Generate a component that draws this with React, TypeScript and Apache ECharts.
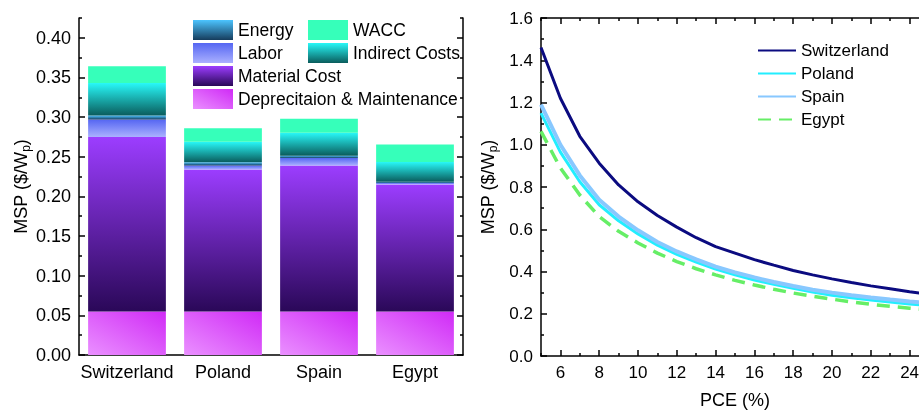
import React, { useEffect, useRef } from "react";
import * as echarts from "echarts";

const categories = ["Switzerland", "Poland", "Spain", "Egypt"];
const depreciation = [0.055, 0.055, 0.055, 0.055];
const material = [0.22, 0.179, 0.184, 0.16];
const labor = [0.022, 0.005, 0.0094, 0.002];
const energy = [0.005, 0.004, 0.003, 0.0015];
const indirect = [0.041, 0.026, 0.029, 0.025];
const wacc = [0.021, 0.017, 0.0175, 0.022];

const leftMajorTicks = [0, 0.05, 0.1, 0.15, 0.2, 0.25, 0.3, 0.35, 0.4];
const leftMinorTicks = [0.025, 0.075, 0.125, 0.175, 0.225, 0.275, 0.325, 0.375, 0.425];

const pce = [5, 6, 7, 8, 9, 10, 11, 12, 13, 14, 15, 16, 17, 18, 19, 20, 21, 22, 23, 24, 25];
const switzerland = [1.46, 1.22, 1.04, 0.913, 0.81, 0.73, 0.665, 0.61, 0.56, 0.518, 0.487, 0.456, 0.43, 0.405, 0.384, 0.365, 0.348, 0.332, 0.318, 0.304, 0.292];
const poland = [1.15, 0.965, 0.825, 0.716, 0.64, 0.578, 0.525, 0.481, 0.444, 0.411, 0.384, 0.36, 0.339, 0.32, 0.303, 0.288, 0.276, 0.265, 0.255, 0.246, 0.238];
const spain = [1.19, 1.0, 0.855, 0.74, 0.66, 0.595, 0.54, 0.495, 0.457, 0.423, 0.396, 0.372, 0.35, 0.331, 0.314, 0.3, 0.288, 0.277, 0.267, 0.258, 0.25];
const egypt = [1.063, 0.89, 0.762, 0.66, 0.59, 0.535, 0.487, 0.447, 0.413, 0.384, 0.358, 0.336, 0.316, 0.298, 0.283, 0.269, 0.256, 0.245, 0.235, 0.226, 0.218];

const xMajorTicks = [6, 8, 10, 12, 14, 16, 18, 20, 22, 24];
const xMinorTicks = [5, 7, 9, 11, 13, 15, 17, 19, 21, 23, 25];

const FONT = "Liberation Sans, Arial, sans-serif";

const vGrad = (top: string, bottom: string) =>
  new echarts.graphic.LinearGradient(0, 0, 0, 1, [
    { offset: 0, color: top },
    { offset: 1, color: bottom },
  ]);

export default function App() {
  const ref = useRef<HTMLDivElement>(null);
  useEffect(() => {
    if (!ref.current) return;
    const chart = echarts.init(ref.current, null, { renderer: "svg" });
    const black = "#000";
    const axisLine = { show: true, onZero: false, lineStyle: { color: black, width: 1.5 } };
    const majorTick = (vals: number[]) => ({ show: true, inside: true, length: 6, customValues: vals, lineStyle: { color: black, width: 1.5 } });
    const minorTickAxis = (vals: number[]) => ({ show: true, inside: true, length: 3, customValues: vals, lineStyle: { color: black, width: 1.5 } });
    const nameRich = { sub: { fontSize: 12, fontFamily: FONT, verticalAlign: "bottom", padding: [10, 0, 0, 0] } };

    const barCommon = { type: "bar", stack: "total", xAxisIndex: 0, yAxisIndex: 0, barWidth: "81%" };
    const mk = (name: string, data: number[], color: any) => ({ ...barCommon, name, data, itemStyle: { color } });

    const lineCommon = { type: "line", xAxisIndex: 1, yAxisIndex: 4, symbol: "none", smooth: false };
    const toPts = (arr: number[]) => pce.map((x, i) => [x, arr[i]]);

    const legendText = { fontSize: 17.5, fontFamily: FONT, color: black };

    const option: any = {
      animation: false,
      textStyle: { fontFamily: FONT, color: black },
      grid: [
        { left: 79, right: 456, top: 18, bottom: 57, outerBoundsMode: "none", containLabel: false },
        { left: 541, right: -10, top: 18, bottom: 56, outerBoundsMode: "none", containLabel: false },
      ],
      legend: [
        {
          orient: "vertical", left: 193, top: 20, padding: 0, itemWidth: 40, itemHeight: 20, itemGap: 3, icon: "rect",
          textStyle: legendText,
          data: ["Energy", "Labor", "Material Cost", "Deprecitaion & Maintenance"],
        },
        {
          orient: "vertical", left: 308, top: 20, padding: 0, itemWidth: 40, itemHeight: 20, itemGap: 3, icon: "rect",
          textStyle: legendText,
          data: ["WACC", "Indirect Costs"],
        },
        {
          orient: "vertical", left: 757, top: 42, padding: 0, itemWidth: 38, itemHeight: 14, itemGap: 6,
          itemStyle: { opacity: 0 },
          textStyle: { fontSize: 17, fontFamily: FONT, color: black },
          data: ["Switzerland", "Poland", "Spain", "Egypt"],
        },
      ],
      xAxis: [
        {
          type: "category", gridIndex: 0, data: categories, position: "bottom",
          axisLine, axisTick: { show: false },
          axisLabel: { interval: 0, hideOverlap: false, fontSize: 18, color: black, fontFamily: FONT, margin: 8 },
        },
        {
          type: "value", gridIndex: 1, position: "bottom", min: 5, max: 25, interval: 1,
          axisLine, axisTick: majorTick(xMajorTicks), splitLine: { show: false },
          axisLabel: { customValues: xMajorTicks, fontSize: 17, color: black, fontFamily: FONT, margin: 8 },
          name: "PCE (%)", nameLocation: "middle", nameGap: 35,
          nameTextStyle: { fontSize: 18, color: black, fontFamily: FONT },
        },
        {
          type: "value", gridIndex: 1, position: "bottom", min: 5, max: 25, interval: 1,
          axisLine: { show: false }, axisTick: minorTickAxis(xMinorTicks), axisLabel: { show: false }, splitLine: { show: false },
        },
        {
          type: "value", gridIndex: 1, position: "top", min: 5, max: 25, interval: 1,
          axisLine, axisTick: majorTick(xMajorTicks), axisLabel: { show: false }, splitLine: { show: false },
        },
        {
          type: "value", gridIndex: 1, position: "top", min: 5, max: 25, interval: 1,
          axisLine: { show: false }, axisTick: minorTickAxis(xMinorTicks), axisLabel: { show: false }, splitLine: { show: false },
        },
      ],
      yAxis: [
        {
          type: "value", gridIndex: 0, position: "left", min: 0, max: 0.425, interval: 0.05,
          axisLine, axisTick: majorTick(leftMajorTicks), splitLine: { show: false },
          axisLabel: { customValues: leftMajorTicks, formatter: (v: number) => v.toFixed(2), fontSize: 18, color: black, fontFamily: FONT, margin: 8 },
          name: "MSP ($/W{sub|p})", nameLocation: "middle", nameGap: 47,
          nameTextStyle: { fontSize: 18, color: black, fontFamily: FONT, rich: nameRich },
        },
        {
          type: "value", gridIndex: 0, position: "left", min: 0, max: 0.425, interval: 0.05,
          axisLine: { show: false }, axisTick: minorTickAxis(leftMinorTicks), axisLabel: { show: false }, splitLine: { show: false },
        },
        {
          type: "value", gridIndex: 0, position: "right", min: 0, max: 0.425, interval: 0.05,
          axisLine, axisTick: majorTick(leftMajorTicks), axisLabel: { show: false }, splitLine: { show: false },
        },
        {
          type: "value", gridIndex: 0, position: "right", min: 0, max: 0.425, interval: 0.05,
          axisLine: { show: false }, axisTick: minorTickAxis(leftMinorTicks), axisLabel: { show: false }, splitLine: { show: false },
        },
        {
          type: "value", gridIndex: 1, position: "left", min: 0, max: 1.6, interval: 0.2,
          axisLine, axisTick: { show: true, inside: true, length: 6, lineStyle: { color: black, width: 1.5 } },
          minorTick: { show: true, splitNumber: 2, length: 3, lineStyle: { color: black, width: 1.5 } },
          splitLine: { show: false }, minorSplitLine: { show: false },
          axisLabel: { formatter: (v: number) => v.toFixed(1), fontSize: 17, color: black, fontFamily: FONT, margin: 8 },
          name: "MSP ($/W{sub|p})", nameLocation: "middle", nameGap: 42,
          nameTextStyle: { fontSize: 18, color: black, fontFamily: FONT, rich: nameRich },
        },
      ],
      series: [
        mk("Deprecitaion & Maintenance", depreciation,
          new echarts.graphic.LinearGradient(0, 1, 1, 0, [
            { offset: 0, color: "#EA90FF" },
            { offset: 1, color: "#D02AF6" },
          ])),
        mk("Material Cost", material, vGrad("#9C3DFF", "#2A0858")),
        mk("Labor", labor, vGrad("#5566F2", "#AAB0FF")),
        mk("Energy", energy, vGrad("#4CC4FF", "#163C5C")),
        mk("Indirect Costs", indirect, vGrad("#28F8F8", "#0A5C5C")),
        mk("WACC", wacc, "#36FFBA"),
        { ...lineCommon, name: "Switzerland", data: toPts(switzerland), lineStyle: { color: "#0B0B80", width: 3 }, itemStyle: { color: "#0B0B80" } },
        { ...lineCommon, name: "Poland", data: toPts(poland), lineStyle: { color: "#22EEFF", width: 3 }, itemStyle: { color: "#22EEFF" } },
        { ...lineCommon, name: "Spain", data: toPts(spain), lineStyle: { color: "#88C8FF", width: 4 }, itemStyle: { color: "#88C8FF" } },
        { ...lineCommon, name: "Egypt", data: toPts(egypt), lineStyle: { color: "#66EE66", width: 3.5, type: [13, 8] }, itemStyle: { color: "#66EE66" } },
      ],
    };
    chart.setOption(option);
    return () => chart.dispose();
  }, []);
  return <div ref={ref} style={{ position: "fixed", left: 0, top: 0, width: 919, height: 412 }} />;
}
